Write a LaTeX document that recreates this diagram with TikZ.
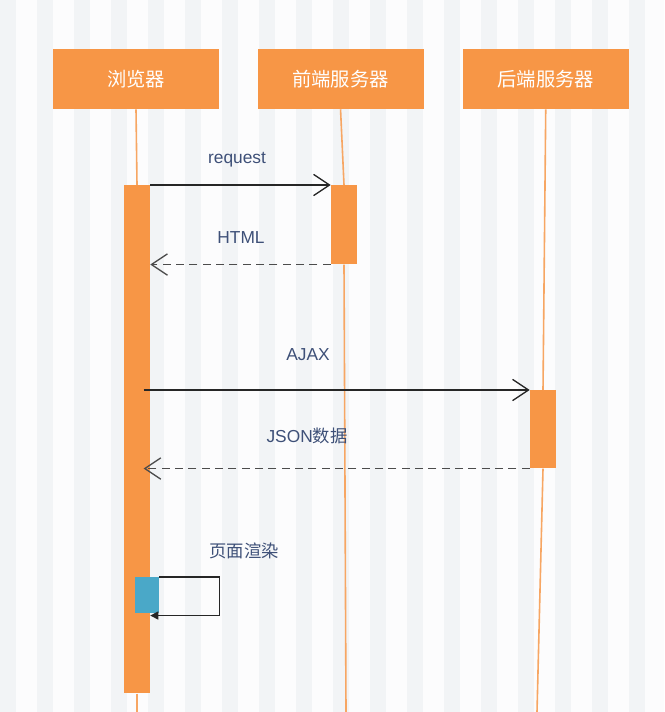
\documentclass[tikz,border=0pt]{standalone}
\usepackage{fontspec}
\setmainfont{Liberation Sans}
\newfontfamily\cjk{Noto Sans CJK SC}
\usepackage{xcolor}
\usepackage{tikz}
\usetikzlibrary{arrows.meta,positioning}
\definecolor{boxorange}{HTML}{F79646}
\definecolor{lineorange}{HTML}{F7A663}
\definecolor{labelblue}{HTML}{3E5078}
\definecolor{renderblue}{HTML}{4AA8C8}
\definecolor{paper}{HTML}{FCFCFD}
\definecolor{stripe}{HTML}{F2F4F6}
\begin{document}
\begin{tikzpicture}[
    x=0.75pt, y=-0.75pt,
    actorbox/.style={rectangle, fill=boxorange, minimum width=124.5pt, minimum height=45pt, inner sep=0pt, text=white, font=\cjk\fontsize{14.5}{16}\selectfont},
    actbar/.style={rectangle, fill=boxorange, minimum width=19.5pt, inner sep=0pt, anchor=north},
    lifeline/.style={draw=lineorange, line width=1.2pt},
    msglabel/.style={text=labelblue, font=\fontsize{13}{15}\selectfont, inner sep=1pt},
    msg/.style={draw=black!85, line width=1.1pt, -{Straight Barb[length=12pt, width=16pt, line width=1pt]}},
    reply/.style={msg, draw=black!70, dash pattern=on 6pt off 4pt},
    selfmsg/.style={draw=black!85, line width=1pt, -{Triangle[length=6pt, width=6pt]}}
]
\useasboundingbox (0,0) rectangle (664,712);
\fill[paper] (0,0) rectangle (664,712);
\foreach \sx in {0,37,...,660}
    \fill[stripe] (\sx,0) rectangle ++(16,712);

\node[actorbox] (browser) at (136,79) {浏览器};
\node[actorbox, right=28.5pt of browser] (front) {前端服务器};
\node[actorbox, right=29pt of front] (back) {后端服务器};

\node[actbar, minimum height=381pt] (bbar) at (137,185) {};
\node[actbar, minimum height=59.25pt] (fbar) at (344,185) {};
\node[actbar, minimum height=58.5pt] (kbar) at (543,390) {};
\node[rectangle, fill=renderblue, minimum width=18pt, minimum height=27pt, inner sep=0pt, anchor=north] (rbox) at (147,577) {};

\coordinate (bend) at (137,712);
\coordinate (fend) at (346,712);
\coordinate (kend) at (537,712);

\draw[lifeline] (browser.south) -- (bbar.north);
\draw[lifeline] (bbar.south) -- (bend);
\draw[lifeline] (front.south) -- (fbar.north);
\draw[lifeline] (fbar.south) -- (fend);
\draw[lifeline] (back.south) -- (kbar.north);
\draw[lifeline] (kbar.south) -- (kend);

\draw[msg] (bbar.north east) -- (fbar.north west);
\draw[reply] (fbar.south west) -- (bbar.east |- fbar.south west);
\draw[msg] ([xshift=-5pt]bbar.east |- kbar.north west) -- (kbar.north west);
\draw[reply] (kbar.south west) -- ([xshift=-5pt]bbar.east |- kbar.south west);
\draw[selfmsg] (rbox.north east) -- ++(60,0) |- ([yshift=-1.5pt]rbox.south -| bbar.east);

\node[msglabel] (lreq) at (237,160) {request};
\node[msglabel] (lhtml) at (241,238) {HTML};
\node[msglabel] (lajax) at (308,355) {AJAX};
\node[msglabel] (ljson) at (307,436) {JSON{\cjk 数据}};
\node[msglabel, font=\cjk\fontsize{13}{15}\selectfont] (lrender) at (244,551) {页面渲染};
\end{tikzpicture}
\end{document}
